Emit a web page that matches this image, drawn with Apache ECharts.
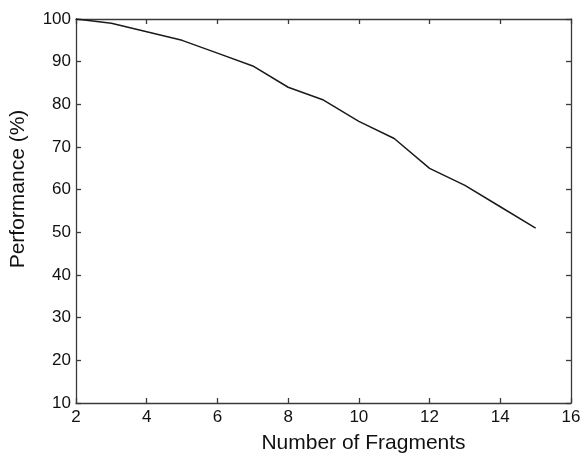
<!DOCTYPE html>
<html>
<head>
<meta charset="utf-8">
<script src="https://cdn.jsdelivr.net/npm/echarts@6/dist/echarts.min.js"></script>
<style>
  html, body { margin: 0; padding: 0; background: #fff; }
  #chart { width: 585px; height: 459px; }
</style>
</head>
<body>
<div id="chart"></div>
<script>
const fragments = [2, 3, 4, 5, 6, 7, 8, 9, 10, 11, 12, 13, 14, 15];
const performance = [100, 99, 97, 95, 92, 89, 84, 81, 76, 72, 65, 61, 56, 51];

const xTicks = { min: 2, max: 16, interval: 2 };
const yTicks = { min: 10, max: 100, interval: 10 };

const font = "'Liberation Sans', Arial, Helvetica, sans-serif";
const axisColor = "#3a3a3a";

const chart = echarts.init(document.getElementById("chart"));

// box frame: same axis drawn on both sides, ticks pointing inward
const frameAxis = (extra) => Object.assign({
  type: "value",
  axisLine: { show: true, lineStyle: { color: axisColor, width: 1.3 } },
  axisTick: { show: true, inside: true, length: 5, lineStyle: { color: axisColor, width: 1.3 } },
  splitLine: { show: false },
}, extra);

chart.setOption({
  animation: false,
  grid: { left: 76, right: 14, top: 19, bottom: 50 },
  xAxis: [
    frameAxis({
      min: xTicks.min, max: xTicks.max, interval: xTicks.interval,
      position: "bottom",
      axisLabel: { color: "#111", fontSize: 17, fontFamily: font, margin: 6 },
      name: "Number of Fragments",
      nameLocation: "middle",
      nameGap: 30,
      nameTextStyle: { color: "#111", fontSize: 21, fontFamily: font, padding: [0, 0, 0, 80] },
    }),
    frameAxis({
      min: xTicks.min, max: xTicks.max, interval: xTicks.interval,
      position: "top",
      axisLabel: { show: false },
    }),
  ],
  yAxis: [
    frameAxis({
      min: yTicks.min, max: yTicks.max, interval: yTicks.interval,
      position: "left",
      axisLabel: { color: "#111", fontSize: 17, fontFamily: font, margin: 5 },
      name: "Performance (%)",
      nameLocation: "middle",
      nameGap: 47,
      nameTextStyle: { color: "#111", fontSize: 21, fontFamily: font, padding: [0, 0, 0, 44] },
    }),
    frameAxis({
      min: yTicks.min, max: yTicks.max, interval: yTicks.interval,
      position: "right",
      axisLabel: { show: false },
    }),
  ],
  series: [
    {
      type: "line",
      data: fragments.map((f, i) => [f, performance[i]]),
      symbol: "none",
      lineStyle: { color: "#1a1a1a", width: 1.5 },
    },
  ],
});
</script>
</body>
</html>
